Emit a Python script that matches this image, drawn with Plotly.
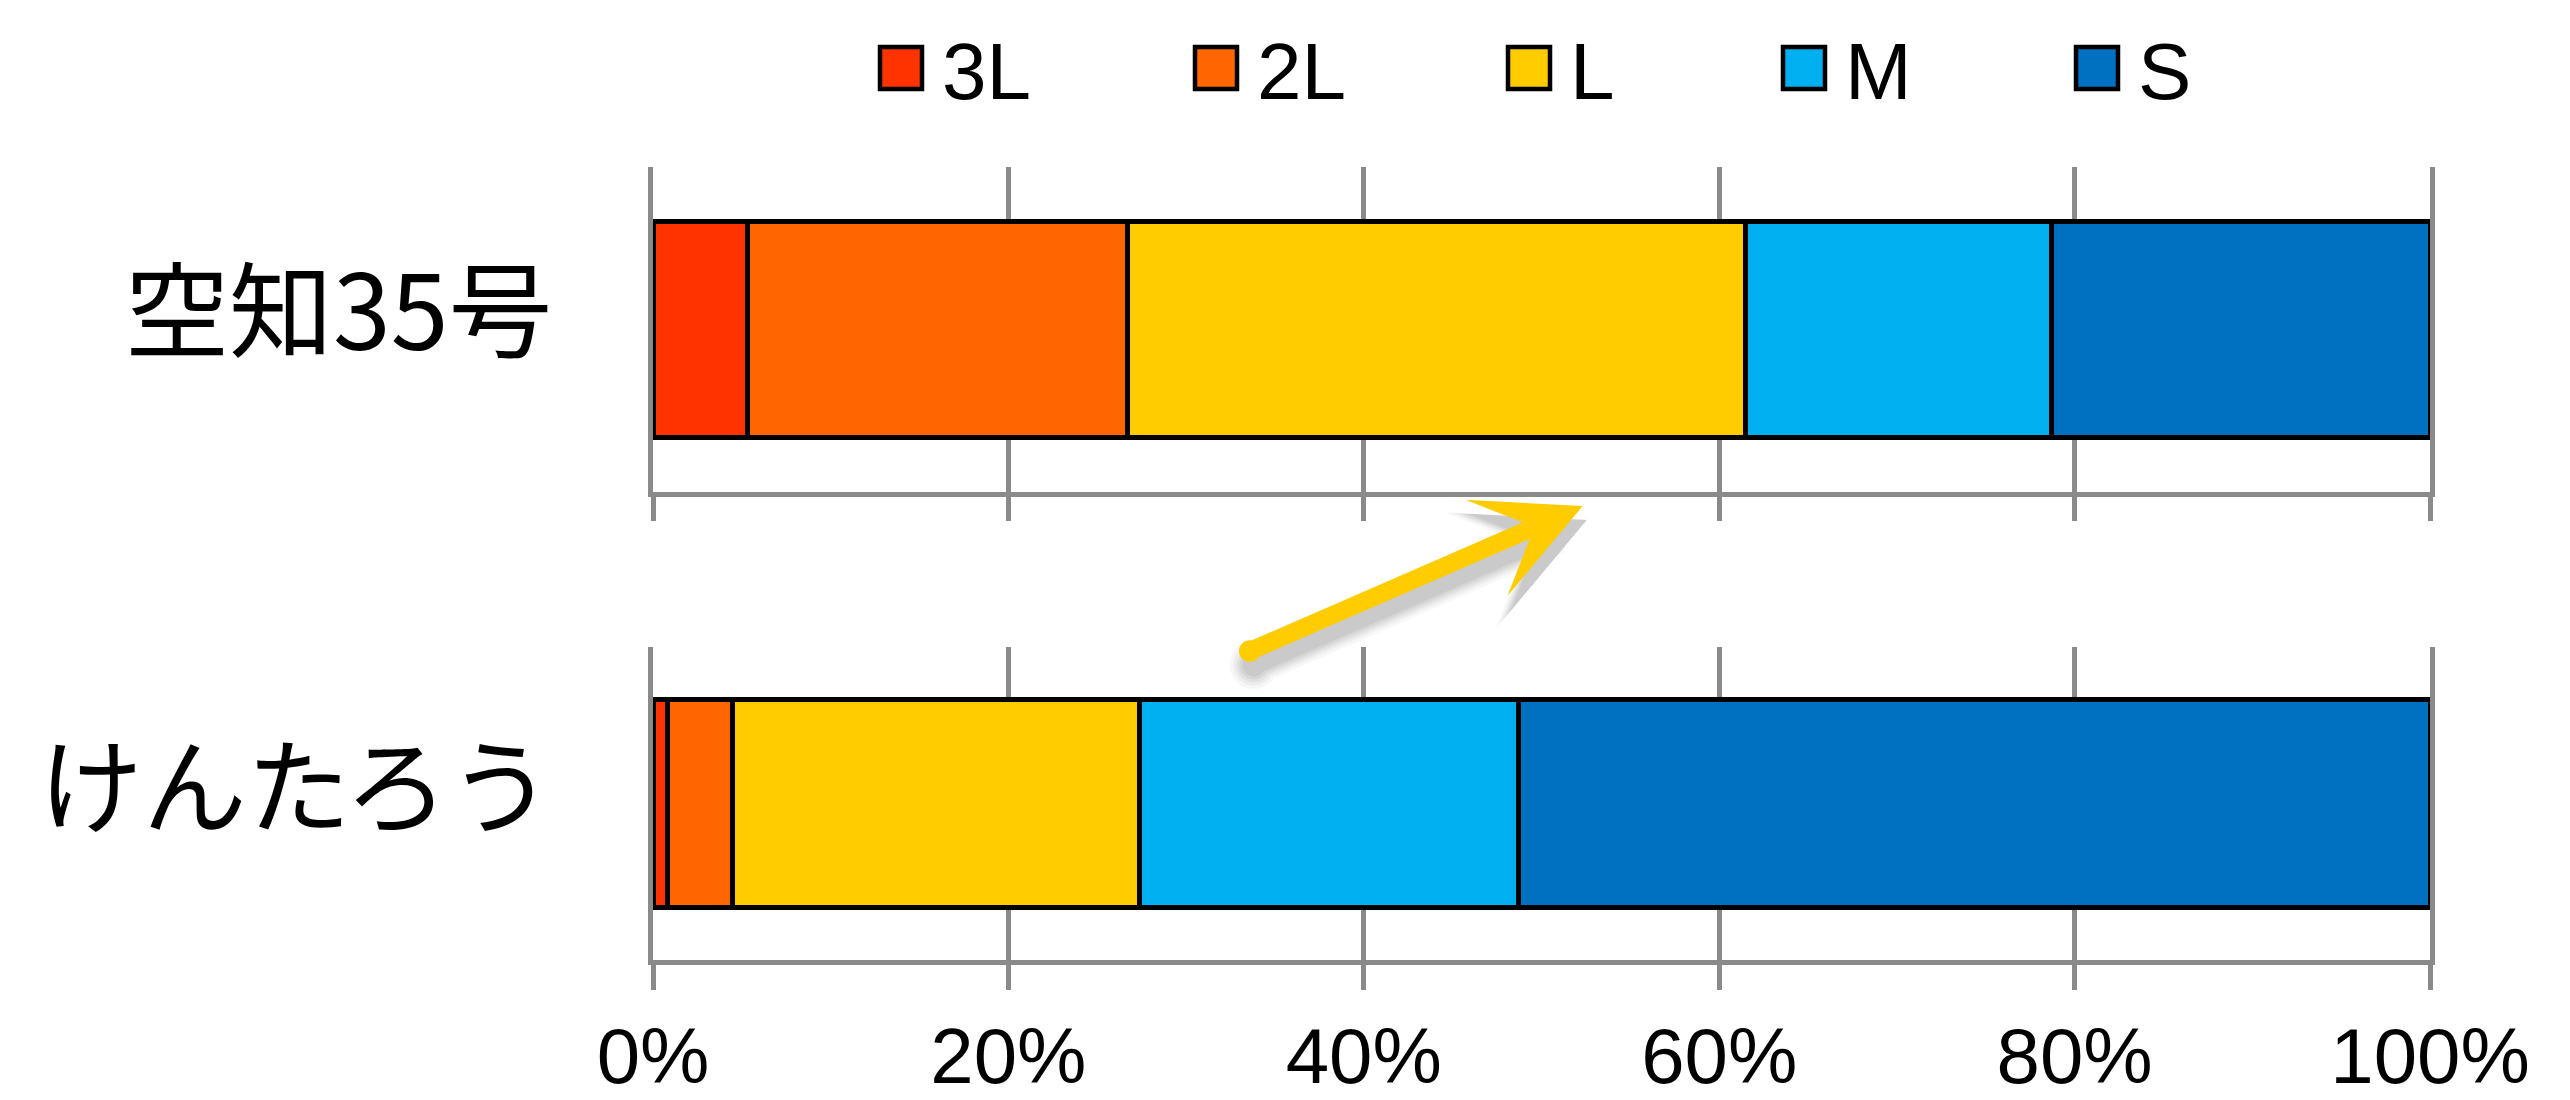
import plotly.graph_objects as go

# ---- data -------------------------------------------------------------
varieties = ["空知35号", "けんたろう"]
size_classes = ["3L", "2L", "L", "M", "S"]
share_sorachi35 = [5.3, 21.4, 34.8, 17.2, 21.3]   # % of yield by size class
share_kentarou = [0.8, 3.7, 22.9, 21.3, 51.3]
class_colors = ["#FF3300", "#FF6600", "#FFCC00", "#00B0F0", "#0070C0"]
pct_ticks = [0, 20, 40, 60, 80, 100]
pct_labels = [f"{v}%" for v in pct_ticks]

shares = [share_sorachi35, share_kentarou]

# ---- page geometry (pixels) -------------------------------------------
W, H = 2570, 1100
M_L, M_R, M_T, M_B = 653, 140, 167, 140
PW = W - M_L - M_R
PH = H - M_T - M_B

def px_x(px):
    return (px - M_L) / PW

def px_y(py):
    return (H - M_B - py) / PH

GRID = "#8A8A8A"
LW = 4.5
OUTLINE = 5

fig = go.Figure()

axis_names = [("x", "y"), ("x2", "y2")]
for variety, vals, (xa, ya) in zip(varieties, shares, axis_names):
    for cls, v, col in zip(size_classes, vals, class_colors):
        fig.add_trace(go.Bar(
            y=[variety], x=[v], orientation="h", name=cls,
            marker=dict(color=col, line=dict(color="black", width=OUTLINE)),
            xaxis=xa, yaxis=ya, showlegend=False, hoverinfo="x+name",
        ))

x_common = dict(
    range=[0, 100], tickmode="array", tickvals=pct_ticks, ticktext=pct_labels,
    ticks="outside", ticklen=25, tickwidth=LW, tickcolor=GRID,
    showline=True, linecolor=GRID, linewidth=LW,
    showgrid=True, gridcolor=GRID, gridwidth=LW,
    zeroline=False, fixedrange=True, automargin=False,
)
y_common = dict(
    type="category", showline=True, mirror=True, linecolor=GRID, linewidth=LW,
    ticks="", showgrid=False, zeroline=False, fixedrange=True, automargin=False,
    tickfont=dict(family="Noto Sans CJK JP", size=104, color="black"),
    ticklabelstandoff=75,
)

fig.update_layout(
    width=W, height=H,
    margin=dict(l=M_L, r=M_R, t=M_T, b=M_B, pad=0, autoexpand=False),
    paper_bgcolor="white", plot_bgcolor="white",
    barmode="stack", bargap=0.335,
    showlegend=False,
    xaxis=dict(domain=[0, 1], anchor="y", showticklabels=False, **x_common),
    yaxis=dict(domain=[px_y(491.7), 1], anchor="x", ticklabelshift=-16, **y_common),
    xaxis2=dict(domain=[0, 1], anchor="y2", showticklabels=True,
                tickfont=dict(family="Liberation Sans", size=78, color="black"),
                ticklabelstandoff=0, **x_common),
    yaxis2=dict(domain=[0, px_y(646.7)], anchor="x2", ticklabelshift=-14, **y_common),
)

# ---- legend: swatches + labels ----------------------------------------
legend_left_px = [880, 1195, 1508, 1783, 2076]
SW = 42
shapes = []
annotations = []
for cls, col, lx in zip(size_classes, class_colors, legend_left_px):
    shapes.append(dict(
        type="rect", xref="paper", yref="paper",
        xsizemode="pixel", ysizemode="pixel",
        xanchor=px_x(lx), yanchor=px_y(68),
        x0=0, x1=SW, y0=-SW / 2, y1=SW / 2,
        fillcolor=col, line=dict(color="black", width=LW),
    ))
    annotations.append(dict(
        xref="paper", yref="paper", x=px_x(lx + 60), y=px_y(72),
        xanchor="left", yanchor="middle", showarrow=False, text=cls,
        font=dict(family="Liberation Sans", size=80, color="black"),
    ))

# ---- trend arrow with soft drop shadow --------------------------------
tip_px = (1582.7, 506.0)
tail_px = (1248.3, 651.7)
head_len = 105.0
for w, alpha in [(40, 0.04), (34, 0.05), (29, 0.06), (24, 0.07), (19, 0.08)]:
    annotations.append(dict(
        xref="paper", yref="paper", x=px_x(tip_px[0]), y=px_y(tip_px[1]),
        axref="pixel", ayref="pixel",
        ax=tail_px[0] - tip_px[0], ay=tail_px[1] - tip_px[1],
        xshift=4, yshift=-14, text="", showarrow=True,
        arrowhead=3, arrowsize=(head_len + (w - 18)) / (6 * w),
        arrowwidth=w, arrowcolor=f"rgba(70,70,70,{alpha})",
        arrowside="end+start", startarrowhead=6, startarrowsize=0.3,
        standoff=0, startstandoff=0,
    ))
annotations.append(dict(
    xref="paper", yref="paper", x=px_x(tip_px[0]), y=px_y(tip_px[1]),
    axref="pixel", ayref="pixel",
    ax=tail_px[0] - tip_px[0], ay=tail_px[1] - tip_px[1],
    text="", showarrow=True,
    arrowhead=3, arrowsize=head_len / (6 * 18), arrowwidth=18, arrowcolor="#FFCC00",
    arrowside="end+start", startarrowhead=6, startarrowsize=0.3,
    standoff=0, startstandoff=0,
))

fig.update_layout(shapes=shapes, annotations=annotations)

fig.write_html("out.html")
